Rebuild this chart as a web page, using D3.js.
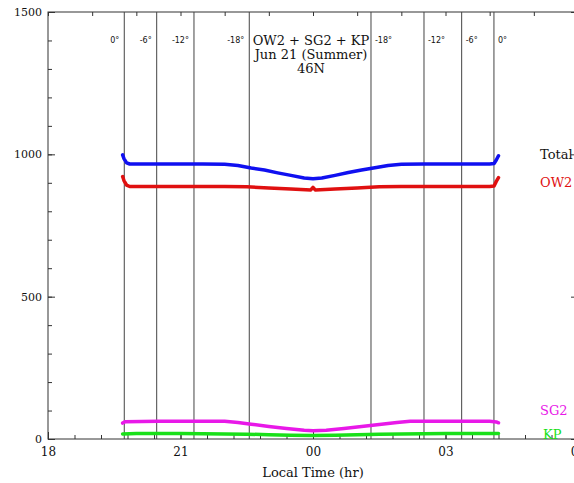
<!DOCTYPE html>
<html>
<head>
<meta charset="utf-8">
<script src="https://cdn.jsdelivr.net/npm/d3@7"></script>
<style>
  html, body { margin: 0; padding: 0; background: #fff; }
  svg { display: block; }
  .axis path { display: none; }
  .axis line { stroke: #333; stroke-width: 1; }
  .axis text { font-family: "DejaVu Serif", serif; fill: #111; }
</style>
</head>
<body>
<svg id="chart" width="574" height="483"></svg>
<script>
// Night-time irradiance components, 46N, June 21 (local time in hours, 24+ = after midnight)
const totalTime = [19.69, 19.72, 19.78, 19.85, 20.5, 21.0, 21.5, 22.0, 22.3, 22.6, 22.9, 23.2, 23.5, 23.8, 24.0, 24.2, 24.5, 24.8, 25.1, 25.4, 25.7, 26.0, 26.5, 27.0, 27.5, 28.0, 28.1, 28.15, 28.2];
const totalVals = [998, 985, 970, 966, 966, 966, 966, 965, 961, 952, 945, 935, 926, 917, 914, 917, 926, 936, 945, 953, 961, 965, 966, 966, 966, 966, 968, 980, 995];

const ow2Time = [19.69, 19.72, 19.78, 19.85, 20.5, 21.0, 21.5, 22.0, 22.5, 23.0, 23.5, 23.95, 24.0, 24.05, 24.5, 25.0, 25.5, 26.0, 26.5, 27.0, 27.5, 28.0, 28.1, 28.15, 28.2];
const ow2Vals = [922, 908, 892, 887, 887, 887, 887, 887, 886, 882, 878, 875, 884, 875, 878, 882, 886, 887, 887, 887, 887, 887, 889, 905, 918];

const sg2Time = [19.69, 19.75, 20.5, 21.5, 22.0, 22.3, 22.6, 23.0, 23.4, 23.8, 24.0, 24.3, 24.7, 25.1, 25.5, 25.9, 26.2, 27.0, 28.0, 28.15, 28.2];
const sg2Vals = [56, 61, 62, 62, 62, 58, 52, 44, 37, 31, 29, 31, 37, 44, 51, 58, 62, 62, 62, 60, 57];

const kpTime = [19.69, 20.0, 21.0, 22.0, 22.5, 23.0, 23.5, 24.0, 24.5, 25.0, 25.5, 26.0, 27.0, 28.0, 28.2];
const kpVals = [18, 19, 19, 18, 17, 15, 13, 12, 13, 15, 17, 18, 19, 19, 19];

// Sun elevation markers (sunset / twilight limits, then the morning counterparts)
const sunTimes = [19.727, 20.461, 21.305, 22.557, 25.313, 26.513, 27.366, 28.097];
const sunLabels = ["0°", "-6°", "-12°", "-18°", "-18°", "-12°", "-6°", "0°"];

const xTickValues = [18, 21, 24, 27, 30];
const xTickLabels = ["18", "21", "00", "03", "06"];
const yTickValues = [0, 500, 1000, 1500];

const titleLines = ["OW2 + SG2 + KP", "Jun 21 (Summer)", "46N"];
const seriesNames = ["Total", "OW2", "SG2", "KP"];
const seriesColors = ["#1010f0", "#e01010", "#e818e8", "#18e018"];
// value level each right-hand series name sits at
const seriesLabelLevels = [1000, 900, 100, 15];

const svg = d3.select("#chart");
const pLeft = 48, pRight = 578, pTop = 12, pBottom = 439;

const x = d3.scaleLinear().domain([18, 30]).range([pLeft, pRight]);
const y = d3.scaleLinear().domain([0, 1500]).range([pBottom, pTop]);

// frame
svg.append("rect")
  .attr("x", pLeft).attr("y", pTop)
  .attr("width", pRight - pLeft).attr("height", pBottom - pTop)
  .attr("fill", "none").attr("stroke", "#333").attr("stroke-width", 1);

// bottom axis: labelled major ticks and minor ticks, all pointing inward
svg.append("g").attr("class", "axis")
  .attr("transform", `translate(0,${pBottom})`)
  .call(d3.axisBottom(x).tickValues(d3.range(18, 30.001, 0.6)).tickSize(-4).tickFormat(""));
svg.append("g").attr("class", "axis")
  .attr("transform", `translate(0,${pBottom})`)
  .call(d3.axisBottom(x).tickValues(xTickValues).tickSize(-7).tickPadding(8)
    .tickFormat((d, i) => xTickLabels[i]))
  .selectAll("text").style("font-size", "12px");

// top axis: hourly ticks
svg.append("g").attr("class", "axis")
  .attr("transform", `translate(0,${pTop})`)
  .call(d3.axisTop(x).tickValues(d3.range(18, 30.001, 1)).tickSize(-4).tickFormat(""));

// left axis
svg.append("g").attr("class", "axis")
  .attr("transform", `translate(${pLeft},0)`)
  .call(d3.axisLeft(y).tickValues(d3.range(0, 1501, 100)).tickSize(-4).tickFormat(""));
svg.append("g").attr("class", "axis")
  .attr("transform", `translate(${pLeft},0)`)
  .call(d3.axisLeft(y).tickValues(yTickValues).tickSize(-7).tickPadding(6).tickFormat(d3.format("d")))
  .selectAll("text").style("font-size", "11px");

// right axis (no labels)
svg.append("g").attr("class", "axis")
  .attr("transform", `translate(${pRight},0)`)
  .call(d3.axisRight(y).tickValues(d3.range(0, 1501, 100)).tickSize(-4).tickFormat(""));
svg.append("g").attr("class", "axis")
  .attr("transform", `translate(${pRight},0)`)
  .call(d3.axisRight(y).tickValues(yTickValues).tickSize(-7).tickFormat(""));

// sun elevation lines
svg.append("g").selectAll("line").data(sunTimes).join("line")
  .attr("x1", d => x(d)).attr("x2", d => x(d))
  .attr("y1", pTop).attr("y2", pBottom)
  .attr("stroke", "#444").attr("stroke-width", 1);
svg.append("g").selectAll("text").data(sunTimes).join("text")
  .attr("x", (d, i) => i < 4 ? x(d) - 5 : x(d) + 4)
  .attr("y", 43)
  .attr("text-anchor", (d, i) => i < 4 ? "end" : "start")
  .style("font-family", "DejaVu Sans, sans-serif")
  .style("font-size", "8px")
  .attr("fill", "#111")
  .text((d, i) => sunLabels[i]);

// title block
svg.append("g").selectAll("text").data(titleLines).join("text")
  .attr("x", 311).attr("y", (d, i) => 45 + i * 14)
  .attr("text-anchor", "middle")
  .style("font-family", "DejaVu Serif, serif")
  .style("font-size", "13px")
  .attr("fill", "#111")
  .text(d => d);

// series
const series = [
  { t: totalTime, v: totalVals },
  { t: ow2Time, v: ow2Vals },
  { t: sg2Time, v: sg2Vals },
  { t: kpTime, v: kpVals }
];
const line = d3.line().x(d => x(d[0])).y(d => y(d[1]));
series.forEach((s, k) => {
  const pts = s.t.map((t, i) => [t, s.v[i]]);
  svg.append("path")
    .attr("d", line(pts))
    .attr("fill", "none")
    .attr("stroke", seriesColors[k])
    .attr("stroke-width", 3.5)
    .attr("stroke-linejoin", "round")
    .attr("stroke-linecap", "round");
});

// series labels at the right edge
svg.append("g").selectAll("text").data(seriesNames).join("text")
  .attr("x", (d, i) => i === 3 ? 543 : 540)
  .attr("y", (d, i) => y(seriesLabelLevels[i]))
  .attr("dy", "0.35em")
  .style("font-family", "DejaVu Serif, serif")
  .style("font-size", "13px")
  .attr("fill", (d, i) => i === 0 ? "#111" : seriesColors[i])
  .text(d => d);

// x axis title
svg.append("text")
  .attr("x", 313).attr("y", 477)
  .attr("text-anchor", "middle")
  .style("font-family", "DejaVu Serif, serif")
  .style("font-size", "13px")
  .attr("fill", "#111")
  .text("Local Time (hr)");
</script>
</body>
</html>
